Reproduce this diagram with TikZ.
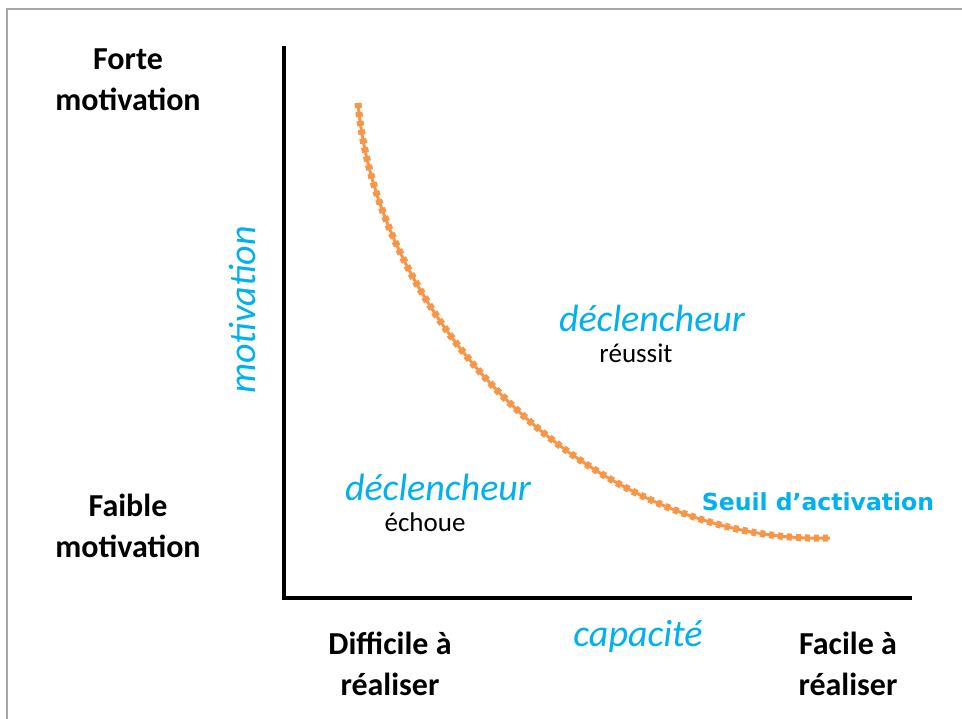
\documentclass[tikz,border=0pt]{standalone}
\usepackage{fontspec}
\setmainfont{Carlito}
\newfontfamily\roundfont{DejaVu Sans}
\usepackage{tikz}
\usetikzlibrary{positioning}

\definecolor{seuilorange}{HTML}{F79646}
\definecolor{cielbleu}{HTML}{00B0F0}
\definecolor{cadregris}{HTML}{A6A6A6}

\begin{document}
\begin{tikzpicture}[
  x=1pt,y=-1pt,
  axlabel/.style={align=center,inner sep=0pt,font=\fontsize{32}{41}\selectfont\bfseries},
  handlabel/.style={inner sep=0pt,text=cielbleu,font=\fontsize{38}{40}\selectfont\itshape},
  plainlabel/.style={inner sep=0pt,font=\fontsize{27}{30}\selectfont},
  axisline/.style={line width=4.5pt},
]
\useasboundingbox (0,0) rectangle (962,719);
% cadre
\draw[cadregris,line width=2pt] (7,719) -- (7,9) -- (962,9);

% axes
\coordinate (ytop) at (284,46);
\coordinate (origin) at (284,598);
\coordinate (xend) at (912,598);
\draw[axisline] (ytop) -- (origin) -- (xend);

% seuil d'activation
\coordinate (cstart) at (358,103);
\coordinate (cend) at (830,538);
\draw[seuilorange,line width=3pt] (cstart) .. controls (378,330) and (600,545) .. (cend);
\draw[seuilorange,line width=7pt,dash pattern=on 5pt off 4pt]
  (cstart) .. controls (378,330) and (600,545) .. (cend);

% labels
\node[axlabel] (forte) at (128,80) {Forte\\motivation};
\node[axlabel] (faible) at (128,526) {Faible\\motivation};
\node[axlabel] (difficile) at (390,664) {Difficile à\\réaliser};
\node[axlabel] (facile) at (848,664) {Facile à\\réaliser};
\node[handlabel,rotate=90] (motiv) at (243,310) {motivation};
\node[handlabel] (capa) at (638,636) {capacité};
\node[handlabel] (declok) at (652,318) {déclencheur};
\node[plainlabel,below=12pt of declok,xshift=-16pt] (reussit) {réussit};
\node[handlabel] (declko) at (438,487) {déclencheur};
\node[plainlabel,below=12pt of declko,xshift=-13pt] (echoue) {échoue};
\node[text=cielbleu,inner sep=0pt,font=\roundfont\bfseries\fontsize{23.5}{25}\selectfont] (seuil) at (818,502) {Seuil d’activation};
\end{tikzpicture}
\end{document}
